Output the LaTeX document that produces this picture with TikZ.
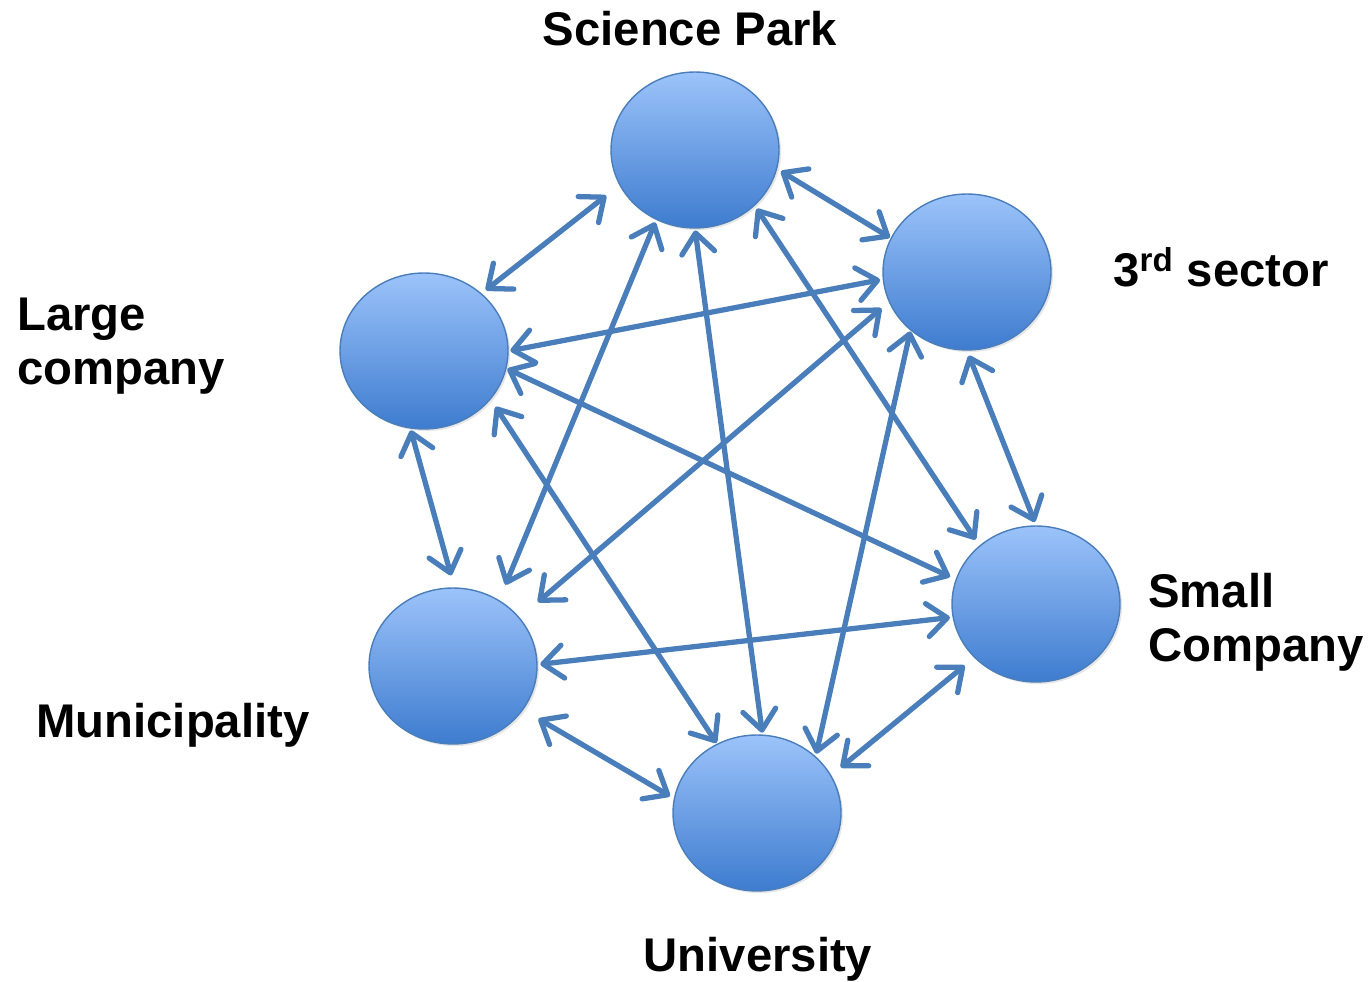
\documentclass[tikz,border=0pt]{standalone}
\usepackage{fontspec}
\setmainfont{Liberation Sans}
\usetikzlibrary{arrows.meta, shapes.geometric, shadows}

\definecolor{ballTop}{RGB}{156,195,250}
\definecolor{ballBot}{RGB}{62,124,207}
\definecolor{ballLine}{RGB}{74,126,187}
\definecolor{linkCol}{RGB}{74,126,187}

\tikzset{
    actor/.style = {ellipse, minimum width = 3.36cm, minimum height = 3.12cm,
                    draw = ballLine, line width = 0.8pt,
                    top color = ballTop, bottom color = ballBot,
                    drop shadow = {shadow xshift = 1.2pt, shadow yshift = -1.2pt, opacity = 0.2}},
    link/.style  = {draw = linkCol, line width = 3pt,
                    {Straight Barb[length = 0.4cm, width = 0.66cm, line cap = round, line join = round]}-{Straight Barb[length = 0.4cm, width = 0.66cm, line cap = round, line join = round]}},
    tag/.style   = {font = \fontsize{26.9}{31}\selectfont\bfseries, inner sep = 0pt}
}

\begin{document}
\begin{tikzpicture}[x = 0.02cm, y = -0.02cm]

        \useasboundingbox (0, 0) rectangle (1369, 982);

        \node[actor] (sp)    at (695, 150) {};
        \node[actor] (third) at (967, 272) {};
        \node[actor] (large) at (424, 351) {};
        \node[actor] (small) at (1036, 604) {};
        \node[actor] (mun)   at (453, 666) {};
        \node[actor] (univ)  at (757, 813) {};

        % from / angle / gap (pt) -- to / angle / gap (pt)
        \foreach \a/\i/\sa/\b/\j/\sb in {sp/-13/2.5/third/156/0.5, sp/205/9.5/large/45/3,
                sp/-119/1.5/mun/55/9.4, sp/-90/1/univ/86/1, sp/-43/2/small/134/4,
                third/185/1.5/large/0/1, third/201/5.5/mun/36/13.6, third/-134/0.5/univ/44/1.5,
                third/-90/3/small/90/2, large/-12/0.5/small/163/3.5, large/-100/1/mun/89/7,
                large/-36/5/univ/120/0.5, mun/1/1.5/small/189/1.5, mun/-32/10/univ/170/2.5,
                small/-139/7/univ/27/7}{
                \draw[link, shorten < = \sa pt, shorten > = \sb pt] (\a.\i) -- (\b.\j);
            }

        \node[tag, anchor = base] (splab) at (690, 46) {Science Park};
        \node[tag, anchor = base west] (thirdlab) at (1113, 287) {3\textsuperscript{rd} sector};
        \node[tag, anchor = base west, align = left] (largelab) at (17, 385) {Large\\company};
        \node[tag, anchor = base west, align = left] (smalllab) at (1148, 662) {Small\\Company};
        \node[tag, anchor = base west] (munlab) at (36, 737) {Municipality};
        \node[tag, anchor = base] (univlab) at (758, 971) {University};

    \end{tikzpicture}
\end{document}
